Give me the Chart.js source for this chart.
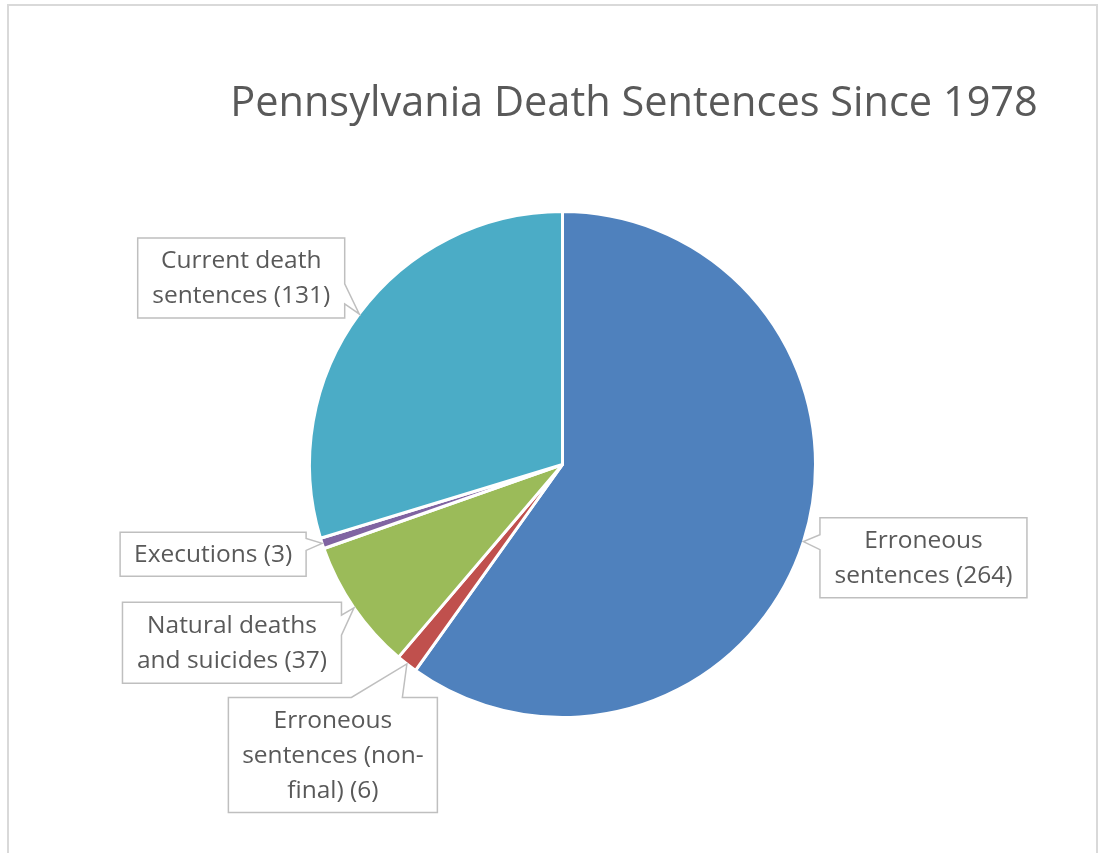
<!DOCTYPE html>
<html>
<head>
<meta charset="utf-8">
<script src="https://cdn.jsdelivr.net/npm/chart.js@4.4.1/dist/chart.umd.min.js"></script>
<style>
  html, body { margin: 0; padding: 0; background: #fff; }
  #wrap { width: 1107px; height: 853px; }
</style>
</head>
<body>
<div id="wrap"><canvas id="chart-one"></canvas></div>
<script>
const chartTitle = "Pennsylvania Death Sentences Since 1978";
const categories = [
  "Erroneous sentences",
  "Erroneous sentences (non-final)",
  "Natural deaths and suicides",
  "Executions",
  "Current death sentences"
];
const counts = [264, 6, 37, 3, 131];
const sliceColors = ["#4F81BD", "#C0504D", "#9BBB59", "#8064A2", "#4BACC6"];

// where each callout box sits, relative to the point on the slice edge it points to
const calloutStyle = [
  { dx: 120,  dy: 16,  w: 207, h: 80,  side: "left",  tail: [17, 32],   wrap: 200 },
  { dx: -74,  dy: 91,  w: 209, h: 115, side: "top",   tail: [123, 174], wrap: 200 },
  { dx: -122, dy: 35,  w: 219, h: 81,  side: "right", tail: [13, 33],   wrap: 205 },
  { dx: -109, dy: 11,  w: 186, h: 44,  side: "right", tail: [6, 18],    wrap: 200 },
  { dx: -118, dy: -36, w: 207, h: 80,  side: "right", tail: [46, 66],   wrap: 200 }
];

const textColor = "#595959";
const labelFont = "24.5px 'Open Sans'";

// split on spaces and after hyphens, greedy fill
function wrapText(ctx, text, maxW) {
  const tokens = text.match(/[^\s-]+-?|\s+/g).filter(t => t.trim() !== "");
  const lines = [];
  let cur = "";
  for (const t of tokens) {
    const joiner = (cur === "" || cur.endsWith("-")) ? "" : " ";
    const test = cur + joiner + t;
    if (cur !== "" && ctx.measureText(test).width > maxW) {
      lines.push(cur);
      cur = t;
    } else {
      cur = test;
    }
  }
  if (cur) lines.push(cur);
  return lines;
}

const chartDecor = {
  id: "chartDecor",
  beforeDraw(chart) {
    const ctx = chart.ctx;
    ctx.save();
    ctx.fillStyle = "#fff";
    ctx.fillRect(0, 0, chart.width, chart.height);
    ctx.strokeStyle = "#d9d9d9";
    ctx.lineWidth = 2;
    ctx.strokeRect(8, 5, 1089, 870);
    ctx.fillStyle = textColor;
    ctx.font = "41.5px 'Open Sans'";
    ctx.textAlign = "center";
    ctx.textBaseline = "alphabetic";
    ctx.fillText(chartTitle, 634, 116);
    ctx.restore();
  },
  afterDatasetsDraw(chart) {
    const ctx = chart.ctx;
    const meta = chart.getDatasetMeta(0);
    ctx.save();
    ctx.font = labelFont;
    meta.data.forEach((arc, i) => {
      const st = calloutStyle[i];
      const p = arc.getProps(["x", "y", "startAngle", "endAngle", "outerRadius"], true);
      const mid = (p.startAngle + p.endAngle) / 2;
      const ax = p.x + Math.cos(mid) * p.outerRadius;
      const ay = p.y + Math.sin(mid) * p.outerRadius;
      const left = ax + st.dx - st.w / 2;
      const top = ay + st.dy - st.h / 2;
      const right = left + st.w;
      const bottom = top + st.h;

      ctx.beginPath();
      ctx.moveTo(left, top);
      if (st.side === "top") {
        ctx.lineTo(left + st.tail[0], top);
        ctx.lineTo(ax, ay);
        ctx.lineTo(left + st.tail[1], top);
      }
      ctx.lineTo(right, top);
      if (st.side === "right") {
        ctx.lineTo(right, top + st.tail[0]);
        ctx.lineTo(ax, ay);
        ctx.lineTo(right, top + st.tail[1]);
      }
      ctx.lineTo(right, bottom);
      ctx.lineTo(left, bottom);
      if (st.side === "left") {
        ctx.lineTo(left, top + st.tail[1]);
        ctx.lineTo(ax, ay);
        ctx.lineTo(left, top + st.tail[0]);
      }
      ctx.closePath();
      ctx.fillStyle = "#fff";
      ctx.fill();
      ctx.strokeStyle = "#bfbfbf";
      ctx.lineWidth = 1.5;
      ctx.stroke();

      const lines = wrapText(ctx, chart.data.labels[i] + " (" + counts[i] + ")", st.wrap);
      const lh = 35;
      const cy = (top + bottom) / 2 - (lines.length - 1) * lh / 2;
      ctx.fillStyle = textColor;
      ctx.textAlign = "center";
      ctx.textBaseline = "middle";
      lines.forEach((ln, k) => ctx.fillText(ln, (left + right) / 2, cy + k * lh + 1));
    });
    ctx.restore();
  }
};

const ctx = document.getElementById("chart-one");

const deathChart = new Chart(ctx, {
  type: "pie",
  data: {
    labels: categories,
    datasets: [{
      data: counts,
      backgroundColor: sliceColors,
      borderColor: "#ffffff",
      borderWidth: 3
    }]
  },
  options: {
    responsive: true,
    maintainAspectRatio: false,
    animation: false,
    layout: { padding: { left: 308, right: 290, top: 210, bottom: 134 } },
    plugins: {
      legend: { display: false },
      tooltip: { enabled: false },
      title: { display: false }
    }
  },
  plugins: [chartDecor]
});
</script>
</body>
</html>
